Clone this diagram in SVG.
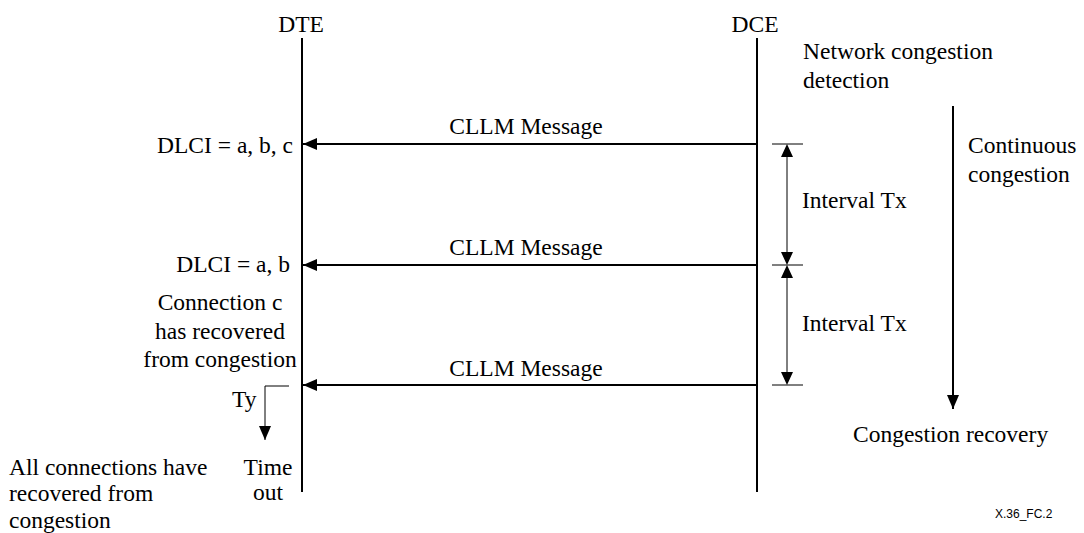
<svg xmlns="http://www.w3.org/2000/svg" width="1084" height="533" viewBox="0 0 1084 533">
<style>
.t{font-size:23.5px;fill:#000}
.m{text-anchor:middle}
.e{text-anchor:end}
.s{font-size:12px;fill:#000}
.ln{stroke:#000;stroke-width:2;fill:none}
.th{stroke:#000;stroke-width:1;fill:none}
</style>
<defs>
<marker id="ah" viewBox="0 0 14 12" refX="14" refY="6" markerWidth="14" markerHeight="12" markerUnits="userSpaceOnUse" orient="auto">
<path d="M0,0 L14,6 L0,12 z" fill="#000"/>
</marker>
</defs>
<rect width="1084" height="533" fill="#fff"/>
<g id="dte" font-family="Liberation Serif, serif">
<text class="t m" x="301" y="32">DTE</text>
<line class="ln" x1="302" y1="38" x2="302" y2="492"/>
</g>
<g id="dce" font-family="Liberation Serif, serif">
<text class="t m" x="755" y="32">DCE</text>
<line class="ln" x1="757" y1="38" x2="757" y2="492"/>
<text class="t" x="803" y="59">Network congestion</text>
<text class="t" x="803" y="88">detection</text>
</g>
<g id="connectors">
<line class="ln" x1="756" y1="144" x2="303" y2="144" marker-end="url(#ah)"/>
<line class="ln" x1="756" y1="265" x2="303" y2="265" marker-end="url(#ah)"/>
<line class="ln" x1="756" y1="385" x2="303" y2="385" marker-end="url(#ah)"/>
<line class="th" x1="772" y1="144" x2="803" y2="144"/>
<line class="th" x1="772" y1="265" x2="803" y2="265"/>
<line class="th" x1="772" y1="385" x2="803" y2="385"/>
<line class="th" x1="787" y1="156" x2="787" y2="253"/>
<path d="M787,144 L781,157 L793,157 z M787,265 L781,252 L793,252 z" fill="#000"/>
<line class="th" x1="787" y1="277" x2="787" y2="373"/>
<path d="M787,265 L781,278 L793,278 z M787,385 L781,372 L793,372 z" fill="#000"/>
<line class="ln" x1="953" y1="106" x2="953" y2="409" marker-end="url(#ah)"/>
<path class="th" d="M289,386 L265,386 L265,440" marker-end="url(#ah)"/>
</g>
<g id="labels" font-family="Liberation Serif, serif">
<text class="t m" x="526" y="134">CLLM Message</text>
<text class="t m" x="526" y="255">CLLM Message</text>
<text class="t m" x="526" y="376">CLLM Message</text>
<text class="t e" x="293" y="153">DLCI = a, b, c</text>
<text class="t e" x="290" y="272">DLCI = a, b</text>
<text class="t m" x="220" y="310">Connection c</text>
<text class="t m" x="220" y="339">has recovered</text>
<text class="t m" x="220" y="367">from congestion</text>
<text class="t" x="802" y="208">Interval Tx</text>
<text class="t" x="802" y="331">Interval Tx</text>
<text class="t" x="968" y="153">Continuous</text>
<text class="t" x="968" y="182">congestion</text>
<text class="t" x="853" y="442">Congestion recovery</text>
<text class="t" x="232" y="407">Ty</text>
<text class="t m" x="268" y="475">Time</text>
<text class="t m" x="268" y="500">out</text>
<text class="t" x="9" y="475">All connections have</text>
<text class="t" x="9" y="501">recovered from</text>
<text class="t" x="9" y="528">congestion</text>
<text class="s" x="995" y="518" font-family="Liberation Sans, Arial, sans-serif">X.36_FC.2</text>
</g>
</svg>
